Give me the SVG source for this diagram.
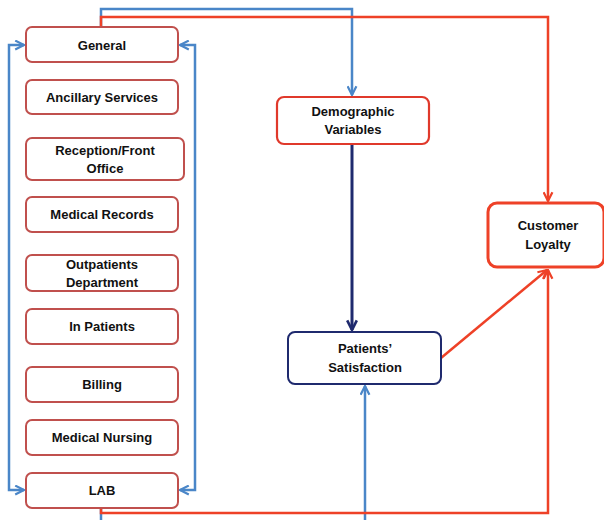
<svg xmlns="http://www.w3.org/2000/svg" width="604" height="520" viewBox="0 0 604 520">
<style>
.box{fill:#fff;stroke:#C0504D;stroke-width:2}
.demo{fill:#fff;stroke:#E0392B;stroke-width:2.2}
.loyal{fill:#fff;stroke:#EE4127;stroke-width:3}
.sat{fill:#fff;stroke:#1F2A6E;stroke-width:2}
text{font-family:"Liberation Sans",Arial,sans-serif;font-weight:bold;font-size:13px;fill:#111;text-anchor:middle}
.blue{fill:none;stroke:#4A86C8;stroke-width:2.5}
.red{fill:none;stroke:#EE4127;stroke-width:2.5}
.navy{fill:none;stroke:#1F2A6E;stroke-width:3}
</style>
<defs>
<marker id="ab" viewBox="0 0 10 10" refX="9" refY="5" markerWidth="4.4" markerHeight="4.4" orient="auto-start-reverse" markerUnits="strokeWidth"><path d="M1,1 L9,5 L1,9" fill="none" stroke="#4A86C8" stroke-width="2"/></marker>
<marker id="ar" viewBox="0 0 10 10" refX="9" refY="5" markerWidth="4.4" markerHeight="4.4" orient="auto-start-reverse" markerUnits="strokeWidth"><path d="M1,1 L9,5 L1,9" fill="none" stroke="#EE4127" stroke-width="2"/></marker>
<marker id="an" viewBox="0 0 10 10" refX="9" refY="5" markerWidth="4" markerHeight="4" orient="auto" markerUnits="strokeWidth"><path d="M1,1 L9,5 L1,9" fill="none" stroke="#1F2A6E" stroke-width="2.2"/></marker>
</defs>
<g id="connectors">
<path class="blue" d="M101,27 V9 H352 V95" marker-end="url(#ab)"/>
<path class="blue" d="M24,45 H9 V490 H24" marker-start="url(#ab)" marker-end="url(#ab)"/>
<path class="blue" d="M180,45 H195 V490 H180" marker-start="url(#ab)" marker-end="url(#ab)"/>
<path class="blue" d="M101,508 V520"/>
<path class="blue" d="M365,520 V386" marker-end="url(#ab)"/>
<path class="red" d="M101,27 V17 H548 V201" marker-end="url(#ar)"/>
<path class="red" d="M101,508 V513 H548 V270" marker-end="url(#ar)"/>
<path class="red" d="M441,358 L547,270" marker-end="url(#ar)"/>
<path class="navy" d="M352,145 V330" marker-end="url(#an)"/>
</g>
<g id="general"><rect class="box" x="26" y="27" width="152" height="35" rx="6"/><text x="102" y="49.5">General</text></g>
<g id="ancillary"><rect class="box" x="26" y="80" width="152" height="34" rx="6"/><text x="102" y="102">Ancillary Services</text></g>
<g id="reception"><rect class="box" x="26" y="138" width="158" height="42" rx="6"/><text x="105" y="155">Reception/Front</text><text x="105" y="173">Office</text></g>
<g id="records"><rect class="box" x="26" y="197" width="152" height="35" rx="6"/><text x="102" y="219">Medical Records</text></g>
<g id="outpatients"><rect class="box" x="26" y="255" width="152" height="36" rx="6"/><text x="102" y="269">Outpatients</text><text x="102" y="287">Department</text></g>
<g id="inpatients"><rect class="box" x="26" y="309" width="152" height="35" rx="6"/><text x="102" y="331">In Patients</text></g>
<g id="billing"><rect class="box" x="26" y="367" width="152" height="35" rx="6"/><text x="102" y="389">Billing</text></g>
<g id="nursing"><rect class="box" x="26" y="420" width="152" height="35" rx="6"/><text x="102" y="442">Medical Nursing</text></g>
<g id="lab"><rect class="box" x="26" y="473" width="152" height="35" rx="6"/><text x="102" y="495">LAB</text></g>
<g id="demographic"><rect class="demo" x="277" y="97" width="152" height="47" rx="7"/><text x="353" y="116">Demographic</text><text x="353" y="134">Variables</text></g>
<g id="loyalty"><rect class="loyal" x="488" y="203" width="116" height="64" rx="9"/><text x="548" y="230">Customer</text><text x="548" y="249">Loyalty</text></g>
<g id="satisfaction"><rect class="sat" x="288" y="332" width="153" height="52" rx="7"/><text x="365" y="353">Patients’</text><text x="365" y="372">Satisfaction</text></g>
</svg>
